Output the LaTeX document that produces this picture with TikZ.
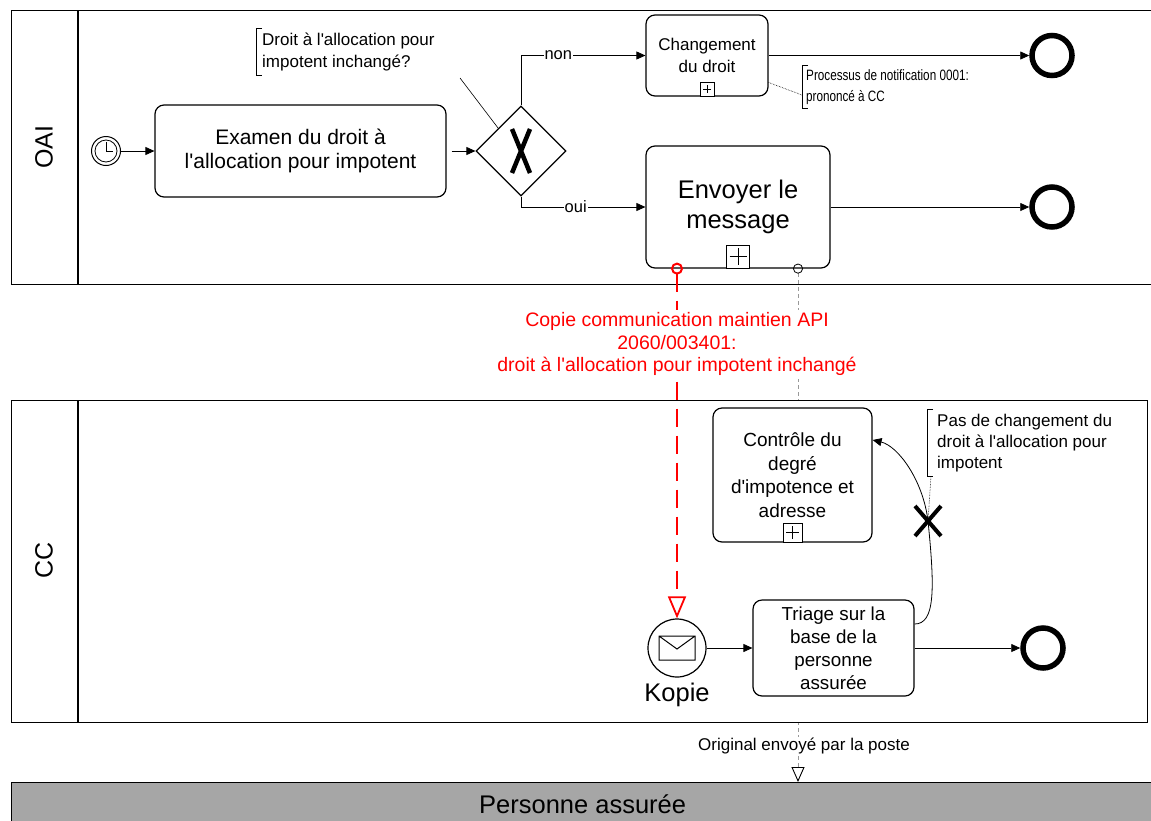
\documentclass[tikz,border=0pt]{standalone}
\usepackage{fontspec}
\setmainfont{Liberation Sans}
\newfontfamily\narrowfont[FakeStretch=0.78]{Liberation Sans}
\usetikzlibrary{arrows.meta,shapes.geometric,positioning}
\definecolor{persgray}{HTML}{A6A6A6}
\definecolor{msgred}{HTML}{FF0000}
\newcommand\ap{\textquotesingle}

\begin{document}
\begin{tikzpicture}[x=1pt,y=-1pt,
  pool/.style={draw,line width=1.3pt,fill=white,anchor=north west,inner sep=0pt},
  lanelabel/.style={rotate=90,font=\fontsize{25}{28}\selectfont},
  task/.style={draw,line width=1.2pt,fill=white,rounded corners=9pt,align=center},
  plusbox/.style={draw,fill=white,line width=1pt,anchor=south,inner sep=0pt,minimum size=#1,
    path picture={\draw[line width=1pt]
      ([xshift=3pt]path picture bounding box.west) -- ([xshift=-3pt]path picture bounding box.east)
      ([yshift=-3pt]path picture bounding box.north) -- ([yshift=3pt]path picture bounding box.south);}},
  endev/.style={circle,draw,line width=5.5pt,minimum size=40pt,inner sep=0pt},
  gate/.style={diamond,draw,line width=1.2pt,fill=white,minimum width=90pt,minimum height=90pt,inner sep=0pt},
  flow/.style={-{Triangle[length=9pt,width=8pt]},line width=0.8pt},
  note/.style={anchor=west,inner xsep=6pt,inner ysep=4pt,align=left},
  assoc/.style={line width=0.6pt,densely dotted},
  label/.style={fill=white,inner sep=1pt,font=\fontsize{16.5}{18}\selectfont}]
 % \draw[help lines] (0,0) grid (1151,820);
  \useasboundingbox (0,0) rectangle (1151,820);
  \node[pool,minimum width=1142pt,minimum height=274pt] (oai) at (11,10) {};
  \draw[line width=1.3pt] ([xshift=67pt]oai.north west) -- ([xshift=67pt]oai.south west);
  \node[lanelabel] (oailab) at (44,147) {OAI};
  \node[pool,fill=persgray,minimum width=1142pt,minimum height=44pt,
        font=\fontsize{25.5}{28}\selectfont] (pers) at (11,782) {Personne assurée};

  \node[circle,draw,line width=1pt,minimum size=29pt,inner sep=0pt] (timer) at (106,151) {};
  \draw[line width=0.8pt] (timer.center) circle (11pt);
  \draw[line width=1pt] ([yshift=9pt]timer.center) -- (timer.center) -- ([xshift=7pt]timer.center);
  \node[task,minimum width=291pt,minimum height=92pt,font=\fontsize{21}{24}\selectfont]
        (exam) at (300.5,151) {Examen du droit à\\l\ap allocation pour impotent};
  \node[gate] (gw) at (521,151) {};
  \draw[line width=4.5pt] ([shift={(-9,-22)}]gw.center) -- ([shift={(9,22)}]gw.center)
        ([shift={(9,-22)}]gw.center) -- ([shift={(-9,22)}]gw.center);
  \node[task,minimum width=122pt,minimum height=81pt,font=\fontsize{17}{22}\selectfont]
        (chg) at (707,55.5) {Changement\\du droit};
  \node[plusbox=14pt] (chgplus) at (chg.south) {};
  \node[task,minimum width=184pt,minimum height=122pt,font=\fontsize{25.5}{30}\selectfont]
        (env) at (738,207) {Envoyer le\\message};
  \node[plusbox=23pt] (envplus) at (env.south) {};
  \node[endev] (endA) at (1052,55.5) {};
  \node[endev] (endB) at (1052,207) {};

  \node[note,font=\fontsize{17}{22}\selectfont] (q1) at (256,52)
        {Droit à l\ap allocation pour\\impotent inchangé?};
  \draw[line width=0.8pt] ([xshift=6pt]q1.north west) -| (q1.south west) -- ([xshift=6pt]q1.south west);
  \coordinate (q1end) at (460,78);
  \draw[line width=0.6pt] (q1end) -- (gw.north west);
  \node[note,inner xsep=4pt,font=\narrowfont\fontsize{15}{21}\selectfont] (q2) at (802,87)
        {Processus de notification 0001:\\prononcé à CC};
  \draw[line width=0.8pt] ([xshift=6pt]q2.north west) -| (q2.south west) -- ([xshift=6pt]q2.south west);
  \draw[assoc] ([yshift=-27pt]chg.east) -- ([yshift=-8pt]q2.west);

  \draw[flow] (timer) -- (exam);
  \draw[flow,shorten <=5pt] (exam) -- (gw);
  \draw[flow] (gw.north) |- node[label,pos=0.65] {non} (chg);
  \draw[flow] (gw.south) |- node[label,pos=0.72] {oui} (env);
  \draw[flow] (chg) -- (endA);
  \draw[flow] (env) -- (endB);

  \draw[gray!80,line width=1pt,dash pattern=on 4pt off 3pt,
        {Circle[open,length=10pt,color=black,line width=0.8pt]}-{Triangle[open,length=15pt,width=13pt,color=black,line width=0.9pt]}]
        ([xshift=60pt,yshift=5pt]env.south) -- ([xshift=60pt]env.south |- pers.north)
        node[label,pos=0.93,xshift=6pt,text=black,font=\fontsize{17}{19}\selectfont] {Original envoyé par la poste};

  \node[pool,minimum width=1136pt,minimum height=322pt] (cc) at (11,400) {};
  \draw[line width=1.3pt] ([xshift=67pt]cc.north west) -- ([xshift=67pt]cc.south west);
  \node[lanelabel] (cclab) at (44,560) {CC};

  \node[task,minimum width=159pt,minimum height=134pt,font=\fontsize{19}{23.5}\selectfont]
        (ctl) at (792.5,475) {Contrôle du\\degré\\d\ap impotence et\\adresse};
  \node[plusbox=19pt] (ctlplus) at (ctl.south) {};
  \node[circle,draw,line width=1.2pt,fill=white,minimum size=58pt,inner sep=0pt] (kop) at (677,648) {};
  \draw[line width=1pt] ([shift={(-18,-12)}]kop.center) rectangle ([shift={(18,12)}]kop.center)
        ([shift={(-18,-12)}]kop.center) -- ([shift={(0,1)}]kop.center) -- ([shift={(18,-12)}]kop.center);
  \node[font=\fontsize{25.5}{28}\selectfont,below=2pt of kop] (koplab) {Kopie};
  \node[task,minimum width=161pt,minimum height=96pt,font=\fontsize{18.8}{23}\selectfont]
        (tri) at (833.5,648) {Triage sur la\\base de la\\personne\\assurée};
  \node[endev] (endC) at (1043,648) {};
  \draw[flow] (kop) -- (tri);
  \draw[flow] (tri) -- (endC);

  \coordinate (cut) at (928,521);
  \draw[flow] ([yshift=24pt]tri.east) .. controls (935,624) and (935,590) .. (cut)
        .. controls (923,480) and (898,446) .. ([yshift=35pt]ctl.east);
  \draw[line width=4pt] ([shift={(-13,-15)}]cut) -- ([shift={(13,15)}]cut)
        ([shift={(13,-15)}]cut) -- ([shift={(-13,15)}]cut);
  \node[note,inner xsep=10pt,font=\fontsize{17}{21}\selectfont] (q3) at (927,443)
        {Pas de changement du\\droit à l\ap allocation pour\\impotent};
  \draw[line width=0.8pt] ([xshift=6pt]q3.north west) -| (q3.south west) -- ([xshift=6pt]q3.south west);
  \draw[assoc] ([xshift=4pt]q3.south west) -- (cut);

  \draw[msgred,line width=2.4pt,dash pattern=on 18pt off 9pt,
        {Circle[open,length=12pt,line width=2pt]}-{Triangle[open,length=22pt,width=18pt,line width=1.8pt]}]
        ([xshift=-61pt,yshift=6pt]env.south) -- (kop.north)
        node[pos=0.23,fill=white,text=msgred,align=center,font=\fontsize{19.5}{22.5}\selectfont]
        {Copie communication maintien API\\2060/003401:\\droit à l\ap allocation pour impotent inchangé};
\end{tikzpicture}
\end{document}
